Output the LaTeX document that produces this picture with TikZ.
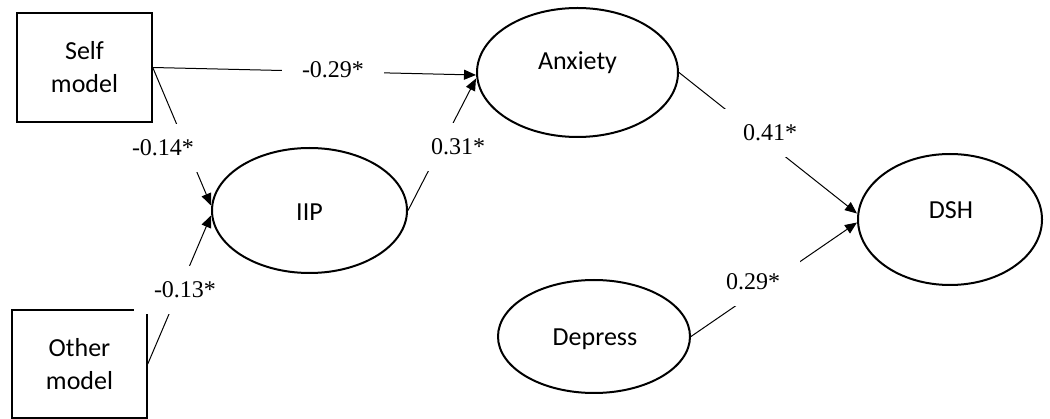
\documentclass[tikz,border=0pt]{standalone}
\usepackage{fontspec}
\setmainfont{Liberation Serif}
\setsansfont{Carlito}
\usetikzlibrary{shapes.geometric,arrows.meta}
\tikzset{
  boxnode/.style={draw, line width=1.5pt, minimum width=135pt, minimum height=109pt, inner sep=0pt,
    align=center, font=\sffamily\fontsize{26}{33}\selectfont},
  ellnode/.style={ellipse, draw, line width=2pt, inner sep=0pt},
  txtnode/.style={inner sep=0pt, font=\sffamily\fontsize{26}{33}\selectfont},
  lblnode/.style={fill=white, inner xsep=20pt, inner ysep=16pt, font=\fontsize{24}{28}\selectfont},
  conn/.style={line width=1pt, -{Triangle[length=12pt,width=10pt]}}
}
\begin{document}
\begin{tikzpicture}[x=1pt,y=-1pt]
\useasboundingbox (0,0) rectangle (1050,419);
% boxes
\node[boxnode] (self) at (84.5,67.5) {Self\\model};
\node[boxnode, minimum height=108pt] (other) at (79.5,364) {Other\\model};
% ellipses
\node[ellnode, minimum width=195pt, minimum height=125pt] (iip) at (309.5,210.5) {};
\node[ellnode, minimum width=201pt, minimum height=129pt] (anx) at (577.5,72.5) {};
\node[ellnode, minimum width=184pt, minimum height=131pt] (dsh) at (950,219.5) {};
\node[ellnode, minimum width=192pt, minimum height=113pt] (dep) at (594,336.5) {};
% ellipse texts
\node[txtnode] (iipt) at (309.5,212.5) {IIP};
\node[txtnode] (anxt) at (577.5,63) {Anxiety};
\node[txtnode] (dsht) at (951,210) {DSH};
\node[txtnode] (dept) at (595,339) {Depress};
% connectors
\draw[conn] (self.east) -- ([yshift=-2.5pt]anx.west);
\draw[conn] (self.east) -- ([yshift=5pt]iip.west);
\draw[conn] (other.east) -- ([yshift=-5pt]iip.west);
\draw[conn] (iip.east) -- ([yshift=-6pt]anx.west);
\draw[conn] (anx.east) -- ([yshift=6pt]dsh.west);
\draw[conn] (dep.east) -- ([yshift=-3pt]dsh.west);
% labels
\node[lblnode] (l1) at (333,70) {-0.29*};
\node[lblnode] (l2) at (163,148) {-0.14*};
\node[lblnode] (l3) at (185,290) {-0.13*};
\node[lblnode] (l4) at (458,147) {0.31*};
\node[lblnode] (l5) at (770,133) {0.41*};
\node[lblnode] (l6) at (753,282) {0.29*};
\end{tikzpicture}
\end{document}
